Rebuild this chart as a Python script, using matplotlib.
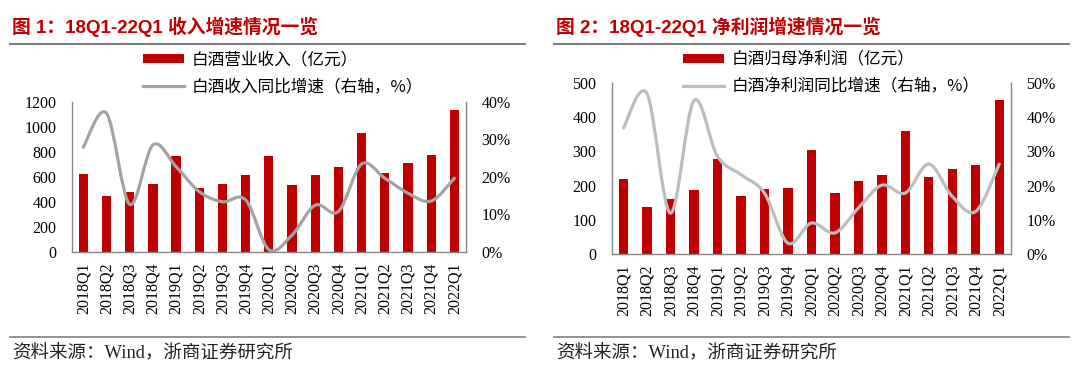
import numpy as np
import matplotlib
matplotlib.use("Agg")
import matplotlib.pyplot as plt
from matplotlib.path import Path
from matplotlib.patches import PathPatch
from matplotlib.lines import Line2D
from matplotlib.ticker import FuncFormatter

# 数据
quarters = ["2018Q1", "2018Q2", "2018Q3", "2018Q4", "2019Q1", "2019Q2", "2019Q3", "2019Q4",
            "2020Q1", "2020Q2", "2020Q3", "2020Q4", "2021Q1", "2021Q2", "2021Q3", "2021Q4", "2022Q1"]
revenue = [619, 445, 480, 539, 764, 510, 544, 611, 769, 531, 611, 681, 949, 633, 708, 772, 1133]
revenue_yoy = [27.9, 37.0, 12.6, 28.5, 22.7, 16.0, 13.3, 13.8, 0.5, 4.4, 12.4, 10.7, 23.4, 19.6, 15.6, 13.5, 19.6]
profit = [219, 136, 161, 186, 279, 168, 189, 192, 305, 177, 214, 231, 359, 224, 249, 261, 452]
profit_yoy = [36.9, 47.0, 11.9, 44.9, 28.6, 23.2, 17.8, 3.1, 9.0, 6.1, 13.4, 20.1, 17.8, 26.3, 16.8, 12.4, 26.3]

RED = "#C00000"
SPINE = "#868686"
W, H = 1080, 370

plt.rcParams['font.family'] = ['Liberation Serif', 'Noto Sans CJK SC']
plt.rcParams['font.size'] = 11.5

fig = plt.figure(figsize=(W / 100, H / 100), dpi=100)


def smooth_path(xs, ys):
    # Excel 风格平滑线：三次贝塞尔曲线
    pts = np.column_stack([xs, ys]).astype(float)
    n = len(pts)
    verts = [pts[0]]
    codes = [Path.MOVETO]
    for i in range(n - 1):
        p0 = pts[i - 1] if i > 0 else pts[i]
        p1 = pts[i]
        p2 = pts[i + 1]
        p3 = pts[i + 2] if i + 2 < n else pts[i + 1]
        verts += [p1 + (p2 - p0) / 6, p2 - (p3 - p1) / 6, p2]
        codes += [Path.CURVE4] * 3
    return Path(verts, codes)


def panel(rect, bars, yoy, ymax, ystep, pmax, bar_label, line_label, leg_x, gray):
    ax = fig.add_axes(rect)
    axr = ax.twinx()
    x = np.arange(len(quarters))
    bc = ax.bar(x, bars, width=0.4, color=RED, zorder=2)
    patch = PathPatch(smooth_path(x, yoy), fill=False, edgecolor=gray, lw=2.3,
                      capstyle='round', joinstyle='round', transform=axr.transData)
    axr.add_patch(patch)

    ax.set_xlim(-0.5, len(quarters) - 0.5)
    ax.set_ylim(0, ymax)
    ax.set_yticks(np.arange(0, ymax + 1, ystep))
    axr.set_ylim(0, pmax)
    axr.set_yticks(np.arange(0, pmax + 1, 10))
    axr.yaxis.set_major_formatter(FuncFormatter(lambda v, p: "%d%%" % v))
    ax.set_xticks(x)
    ax.set_xticklabels(quarters, rotation=90)

    ax.tick_params(axis='y', length=0, pad=11)
    ax.tick_params(axis='x', length=0, pad=8)
    axr.tick_params(axis='y', length=0, pad=11)

    for s in ['top', 'right']:
        ax.spines[s].set_visible(False)
    for s in ['top', 'left', 'bottom']:
        axr.spines[s].set_visible(False)
    for sp in [ax.spines['left'], ax.spines['bottom'], axr.spines['right']]:
        sp.set_color(SPINE)
        sp.set_linewidth(1.0)

    line_proxy = Line2D([], [], color=gray, lw=2.3)
    fig.legend([bc, line_proxy], [bar_label, line_label], loc='upper left',
               bbox_to_anchor=(leg_x / W, 1 - 51 / H), frameon=False,
               prop={'family': 'Noto Sans CJK SC', 'size': 12},
               handlelength=2.5, handleheight=0.45, handletextpad=0.45,
               labelspacing=0.62, borderpad=0, borderaxespad=0)
    return ax, axr


panel([71.7 / W, (H - 251.5) / H, 394.3 / W, 149.5 / H], revenue, revenue_yoy, 1200, 200, 40,
      "白酒营业收入（亿元）", "白酒收入同比增速（右轴，%）", 142.7, "#A3A3A3")
panel([611.7 / W, (H - 253.7) / H, 399.3 / W, 170.4 / H], profit, profit_yoy, 500, 100, 50,
      "白酒归母净利润（亿元）", "白酒净利润同比增速（右轴，%）", 682.7, "#BDBDBD")

# 标题、分隔线、资料来源
for x0, title in [(12, "图 1：18Q1-22Q1 收入增速情况一览"), (556, "图 2：18Q1-22Q1 净利润增速情况一览")]:
    fig.text(x0 / W, 1 - 27 / H, title, color=RED, fontsize=13.5, fontweight='bold',
             family=['Liberation Sans', 'Noto Sans CJK SC'], va='center', ha='left')
    fig.add_artist(Line2D([(x0 - 2) / W, (x0 + 513) / W], [1 - 44 / H] * 2,
                          transform=fig.transFigure, color='#7F7F7F', lw=1.5))
    fig.add_artist(Line2D([(x0 - 2) / W, (x0 + 513) / W], [1 - 337 / H] * 2,
                          transform=fig.transFigure, color='#7F7F7F', lw=1.2))
    fig.text(x0 / W, 1 - 354 / H, "资料来源：Wind，浙商证券研究所", fontsize=13.3,
             family=['Liberation Serif', 'Noto Sans CJK SC'], va='center', ha='left', color='#222222')

fig.savefig("out.png", dpi=100)
